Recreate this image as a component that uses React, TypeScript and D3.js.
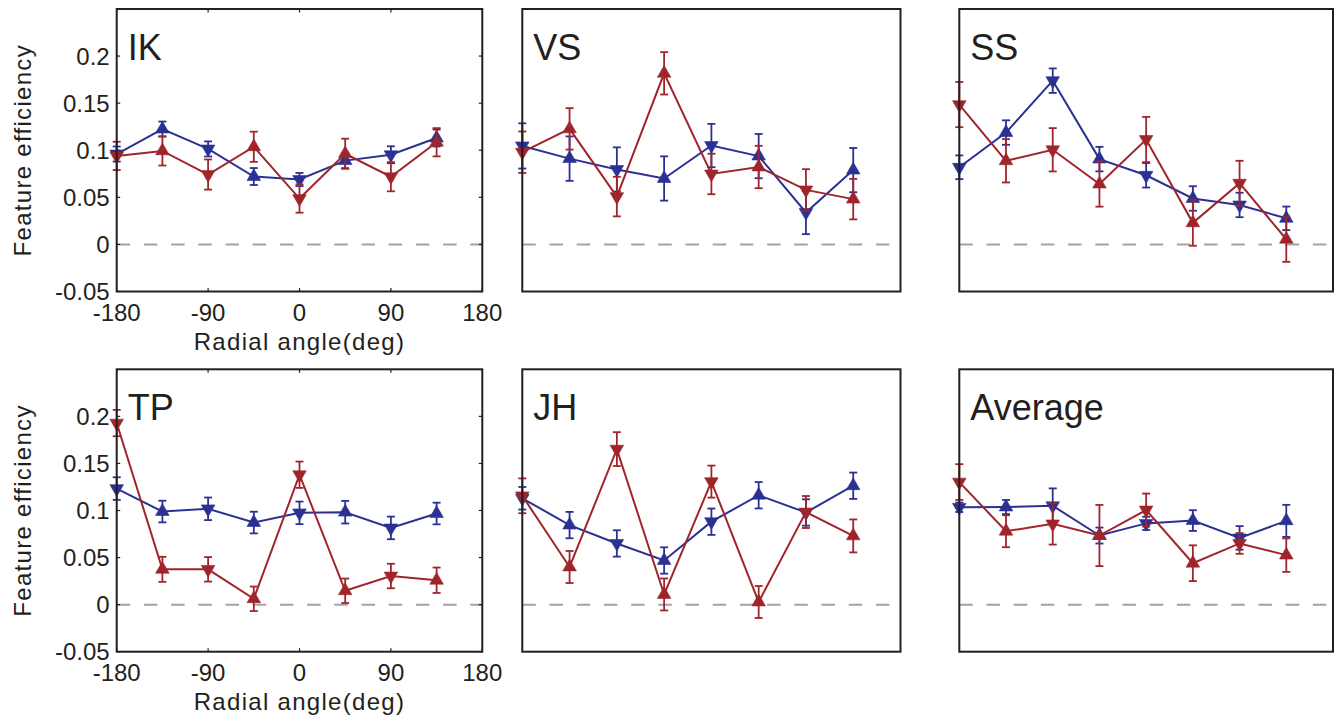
import React from "react";
import * as d3 from "d3";

const angles = [-180, -135, -90, -45, 0, 45, 90, 135];
const xTicks = [-180, -90, 0, 90, 180];
const yTicks = [-0.05, 0, 0.05, 0.1, 0.15, 0.2];
const yTickLabels = ["-0.05", "0", "0.05", "0.1", "0.15", "0.2"];
const panelNames = ["IK", "VS", "SS", "TP", "JH", "Average"];

const blueIK = [0.096, 0.1225, 0.1014, 0.0721, 0.0689, 0.089, 0.0952, 0.113];
const blueErrIK = [0.008, 0.008, 0.008, 0.009, 0.007, 0.008, 0.009, 0.009];
const redIK = [0.094, 0.0993, 0.0742, 0.1037, 0.0487, 0.0963, 0.0719, 0.1085];
const redErrIK = [0.015, 0.0155, 0.016, 0.016, 0.015, 0.016, 0.0155, 0.015];

const blueVS = [0.1046, 0.0911, 0.0796, 0.07, 0.105, 0.0938, 0.0339, 0.0789];
const blueErrVS = [0.024, 0.0236, 0.0235, 0.0235, 0.023, 0.0235, 0.023, 0.0235];
const redVS = [0.0979, 0.1227, 0.0508, 0.1817, 0.0748, 0.0822, 0.0579, 0.0481];
const redErrVS = [0.022, 0.022, 0.021, 0.0225, 0.0215, 0.0225, 0.022, 0.0215];

const blueSS = [0.0819, 0.1188, 0.1739, 0.0906, 0.0734, 0.0488, 0.0419, 0.0277];
const blueErrSS = [0.0126, 0.013, 0.013, 0.013, 0.013, 0.013, 0.013, 0.0125];
const redSS = [0.1485, 0.0888, 0.1005, 0.0641, 0.1114, 0.0229, 0.065, 0.0055];
const redErrSS = [0.024, 0.023, 0.023, 0.024, 0.024, 0.0243, 0.0238, 0.024];

const blueTP = [0.1233, 0.0989, 0.1018, 0.0872, 0.0975, 0.0982, 0.0815, 0.0968];
const blueErrTP = [0.012, 0.0115, 0.012, 0.0115, 0.012, 0.012, 0.012, 0.0115];
const redTP = [0.1929, 0.0375, 0.0375, 0.0062, 0.138, 0.0147, 0.0304, 0.0259];
const redErrTP = [0.014, 0.0133, 0.013, 0.013, 0.014, 0.013, 0.013, 0.0135];

const blueJH = [0.113, 0.0845, 0.065, 0.0469, 0.0881, 0.1162, 0.0979, 0.1263];
const blueErrJH = [0.012, 0.014, 0.014, 0.014, 0.014, 0.014, 0.014, 0.014];
const redJH = [0.1156, 0.04, 0.1652, 0.0108, 0.1307, 0.0028, 0.0984, 0.073];
const redErrJH = [0.0185, 0.017, 0.018, 0.017, 0.017, 0.017, 0.017, 0.0175];

const blueAvg = [0.1034, 0.1037, 0.105, 0.0734, 0.0863, 0.0893, 0.0709, 0.089];
const blueErrAvg = [0.005, 0.0075, 0.0185, 0.0085, 0.007, 0.011, 0.0125, 0.017];
const redAvg = [0.1302, 0.078, 0.0858, 0.0734, 0.1005, 0.044, 0.065, 0.0526];
const redErrAvg = [0.019, 0.017, 0.022, 0.0325, 0.0175, 0.019, 0.011, 0.0178];

const panelData = [
  { blue: blueIK, blueErr: blueErrIK, red: redIK, redErr: redErrIK },
  { blue: blueVS, blueErr: blueErrVS, red: redVS, redErr: redErrVS },
  { blue: blueSS, blueErr: blueErrSS, red: redSS, redErr: redErrSS },
  { blue: blueTP, blueErr: blueErrTP, red: redTP, redErr: redErrTP },
  { blue: blueJH, blueErr: blueErrJH, red: redJH, redErr: redErrJH },
  { blue: blueAvg, blueErr: blueErrAvg, red: redAvg, redErr: redErrAvg },
];

const BLUE = "#2b3192";
const RED = "#a0252b";
const INK = "#231f20";
const FONT = "'Liberation Sans', Arial, Helvetica, sans-serif";

const cols = [
  [116.7, 482.3],
  [522.3, 900.5],
  [959.3, 1333],
];
const rows = [
  [9, 291.5],
  [369.3, 651.7],
];

function Series({ x, y, vals, errs, color }) {
  const line = d3
    .line<number>()
    .x((_, i) => x(angles[i]))
    .y((d) => y(d));
  const tri = d3.symbol().type(d3.symbolTriangle).size(80)();
  return (
    <g>
      <path d={line(vals) || ""} fill="none" stroke={color} strokeWidth={2} />
      {vals.map((v, i) => {
        const cx = x(angles[i]);
        const yt = y(v + errs[i]);
        const yb = y(v - errs[i]);
        return (
          <g key={"e" + i} stroke={color} strokeWidth={1.8}>
            <line x1={cx} x2={cx} y1={yt} y2={yb} />
            <line x1={cx - 4} x2={cx + 4} y1={yt} y2={yt} />
            <line x1={cx - 4} x2={cx + 4} y1={yb} y2={yb} />
          </g>
        );
      })}
      {vals.map((v, i) => (
        <path
          key={"m" + i}
          d={tri || ""}
          transform={`translate(${x(angles[i])},${y(v)}) rotate(${i % 2 === 0 ? 180 : 0})`}
          fill={color}
          stroke={color}
          strokeWidth={0.6}
        />
      ))}
    </g>
  );
}

function Panel({ idx }) {
  const r = Math.floor(idx / 3);
  const c = idx % 3;
  const [x0, x1] = cols[c];
  const [y0, y1] = rows[r];
  const x = d3.scaleLinear().domain([-180, 180]).range([x0, x1]);
  const y = d3.scaleLinear().domain([-0.05, 0.25]).range([y1, y0]);
  const d = panelData[idx];
  const withAxes = c === 0;
  const tl = 3.5;
  return (
    <g>
      <line
        x1={x0}
        x2={x1}
        y1={y(0)}
        y2={y(0)}
        stroke="#a3a3a3"
        strokeWidth={2}
        strokeDasharray="13.5 13.7"
      />
      {withAxes && (
        <g stroke={INK} strokeWidth={1.2}>
          {yTicks.map((t) => (
            <g key={"yt" + t}>
              <line x1={x0} x2={x0 + tl} y1={y(t)} y2={y(t)} />
              <line x1={x1} x2={x1 - tl} y1={y(t)} y2={y(t)} />
            </g>
          ))}
          {xTicks.map((t) => (
            <g key={"xt" + t}>
              <line x1={x(t)} x2={x(t)} y1={y1} y2={y1 - tl} />
              <line x1={x(t)} x2={x(t)} y1={y0} y2={y0 + tl} />
            </g>
          ))}
        </g>
      )}
      <Series x={x} y={y} vals={d.blue} errs={d.blueErr} color={BLUE} />
      <Series x={x} y={y} vals={d.red} errs={d.redErr} color={RED} />
      <rect
        x={x0}
        y={y0}
        width={x1 - x0}
        height={y1 - y0}
        fill="none"
        stroke={INK}
        strokeWidth={2}
      />
      <text
        x={x0 + 11}
        y={y0 + 51}
        fontSize={36}
        fontFamily={FONT}
        fill={INK}
      >
        {panelNames[idx]}
      </text>
      {withAxes && (
        <g fontFamily={FONT} fill={INK}>
          {yTicks.map((t, i) => (
            <text
              key={"yl" + t}
              x={x0 - 7}
              y={y(t) + 8.5}
              fontSize={24}
              textAnchor="end"
            >
              {yTickLabels[i]}
            </text>
          ))}
          {xTicks.map((t) => (
            <text
              key={"xl" + t}
              x={x(t)}
              y={y1 + 29}
              fontSize={24}
              textAnchor="middle"
            >
              {t}
            </text>
          ))}
          <text
            x={(x0 + x1) / 2}
            y={y1 + 58}
            fontSize={24}
            letterSpacing={1.3}
            textAnchor="middle"
          >
            Radial angle(deg)
          </text>
          <text
            transform={`translate(${31},${(y0 + y1) / 2}) rotate(-90)`}
            fontSize={24}
            letterSpacing={1.3}
            textAnchor="middle"
          >
            Feature efficiency
          </text>
        </g>
      )}
    </g>
  );
}

export default function App() {
  return (
    <svg
      width={1334}
      height={717}
      style={{ position: "absolute", left: 0, top: 0, background: "#fff" }}
    >
      <rect width={1334} height={717} fill="#fff" />
      {panelNames.map((_, i) => (
        <Panel key={i} idx={i} />
      ))}
    </svg>
  );
}
